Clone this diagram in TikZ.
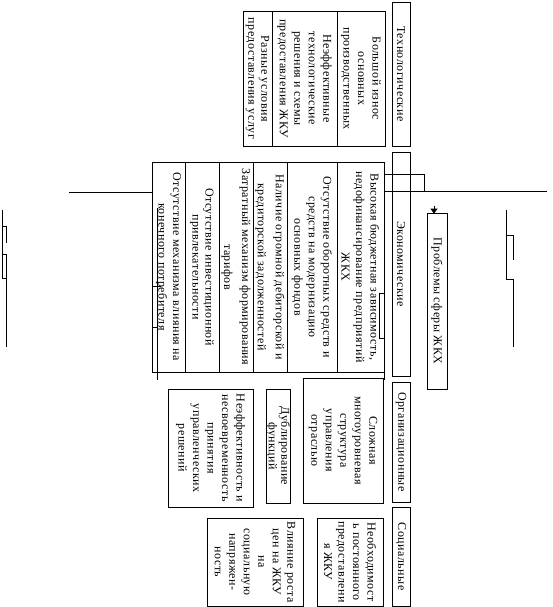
\documentclass[tikz,border=0pt]{standalone}
\usepackage{fontspec}
\setmainfont{Liberation Serif}[LetterSpace=4]
\usetikzlibrary{arrows.meta}
\tikzset{
  cat/.style={draw,rotate=-90,minimum height=18pt,inner sep=0pt,line width=0.8pt},
  item/.style={draw,rotate=-90,align=center,inner sep=0pt,line width=0.8pt},
  wire/.style={line width=0.8pt},
  tip/.style={-{Triangle[length=5pt,width=7pt]},line width=0.8pt}
}
\begin{document}
\begin{tikzpicture}[x=1pt,y=-1pt,font=\fontsize{12}{14.5}\selectfont]
    \useasboundingbox (0,0) rectangle (552,607);
    % groups
    \node[cat,minimum width=144pt] (tech) at (401,74) {Технологические};
    \node[cat,minimum width=224pt] (econ) at (401,264) {Экономические};
    \node[cat,minimum width=120pt] (org) at (401,442) {Организационные};
    \node[cat,minimum width=99pt] (soc) at (401,556.5) {Социальные};
    \node[cat,minimum height=20pt,minimum width=176pt] (prob) at (437,301) {Проблемы сферы ЖКХ};
    % technological
    \node[item,minimum width=135pt,minimum height=48pt] (wear) at (361,78.5) {Большой износ\\основных\\производственных};
    \node[item,minimum width=135pt,minimum height=65pt] (scheme) at (304.5,78.5) {Неэффективные\\технологические\\решения и схемы\\предоставления ЖКУ};
    \node[item,minimum width=135pt,minimum height=29pt,font=\fontsize{12}{13}\selectfont] (terms) at (257.5,78.5) {Разные условия\\предоставления услуг};
    % economic
    \node[item,minimum width=210pt,minimum height=47pt] (budget) at (360.5,267) {Высокая бюджетная зависимость,\\недофинансирование предприятий\\ЖКХ};
    \node[item,minimum width=210pt,minimum height=50pt] (capital) at (312,267) {Отсутствие оборотных средств и\\средств на модернизацию\\основных фондов};
    \node[item,minimum width=210pt,minimum height=34pt,font=\fontsize{12}{18}\selectfont] (debts) at (270,267) {Наличие огромной дебиторской и\\кредиторской задолженностей};
    \node[item,minimum width=210pt,minimum height=34pt,font=\fontsize{12}{18}\selectfont] (tariff) at (236,267) {Затратный механизм формирования\\тарифов};
    \node[item,minimum width=210pt,minimum height=34pt,font=\fontsize{12}{13}\selectfont] (invest) at (202,267) {Отсутствие инвестиционной\\привлекательности};
    \node[item,minimum width=210pt,minimum height=33pt] (consumer) at (168.5,267) {Отсутствие механизма влияния на\\конечного потребителя};
    % organizational
    \node[item,minimum width=125pt,minimum height=80pt] (levels) at (343,440.5) {Сложная\\многоуровневая\\структура\\управления\\отраслью};
    \node[item,minimum width=114pt,minimum height=24pt,font=\fontsize{12}{12.5}\selectfont] (dupl) at (278,446) {Дублирование\\функций};
    \node[item,minimum width=118pt,minimum height=85pt] (decide) at (210.5,448) {Неэффективность и\\несвоевременность\\принятия\\управленческих\\решений};
    % social
    \node[item,minimum width=88pt,minimum height=66pt] (supply) at (350,562) {Необходимост\\ь постоянного\\предоставлени\\я ЖКУ};
    \node[item,minimum width=88pt,minimum height=96pt] (prices) at (255,562) {Влияние роста\\цен на ЖКУ\\на\\социальную\\напряжен-\\ность};
    % connectors
    \coordinate (atail) at (434,206);
    \coordinate (rend) at (547,191);
    \coordinate (lend) at (69,192);
    \draw[tip] (atail) -- ([yshift=-1pt]atail |- prob.west);
    \draw[wire] (budget.north |- 0,174) -- (424,174) -- (424,191);
    \draw[wire] (budget.north |- rend) -- (rend);
    \draw[wire] (lend) -- (lend -| consumer.south);
    \draw[wire] (budget.north east) -- ++(0,8);
    \draw[wire] (budget.north |- 0,293) -- ++(-5,0) -- ++(0,45) -- ++(5,0);
    \draw[wire] (157,208) -- (157,380);
    \draw[wire] (152,286) -- (161,286) (152,327) -- (157,327);
    % stray elbows
    \draw[wire] (2,210) -- (2,278) -- (6,278) (2,226) -- (6,226) -- (6,243) (2,254) -- (6,254) -- (6,347);
    \draw[wire] (506,210) -- (506,279) -- (513,279) -- (513,347) (506,235) -- (513,235) -- (513,260);
  \end{tikzpicture}
\end{document}
